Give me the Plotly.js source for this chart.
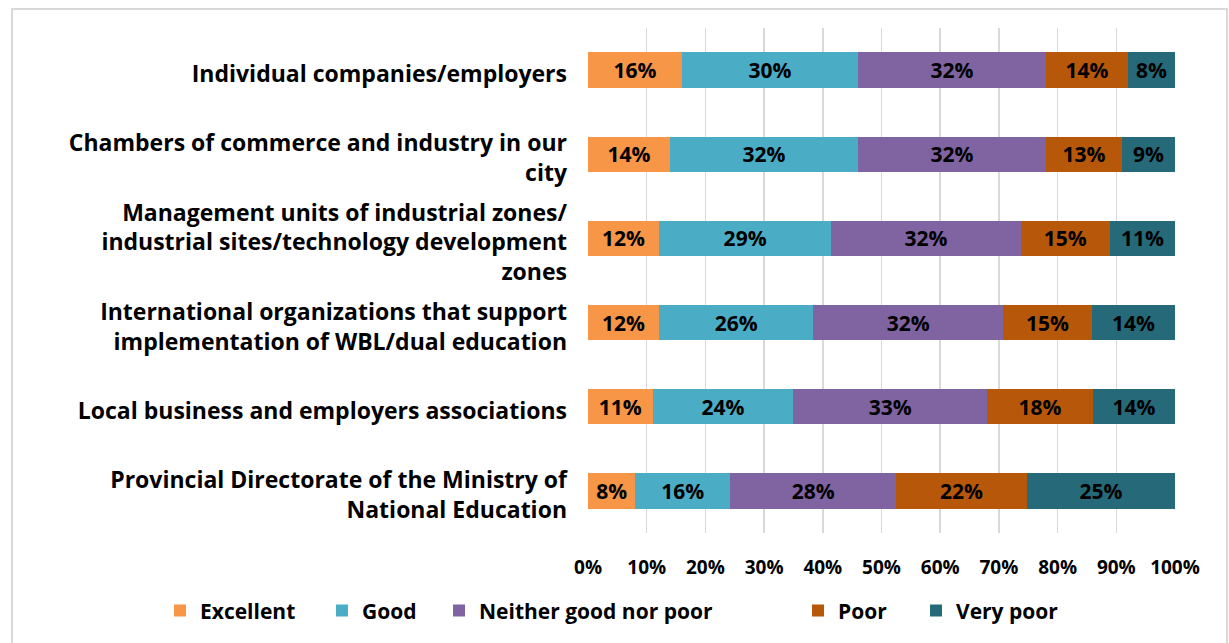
<!DOCTYPE html>
<html>
<head>
<meta charset="utf-8">
<script src="https://cdn.plot.ly/plotly-3.0.1.min.js"></script>
<style>
html,body{margin:0;padding:0;background:#fff;}
#chart{width:1229px;height:643px;position:absolute;left:0;top:0;}
#frame{position:absolute;left:11px;top:8px;width:1213px;height:640px;border:2px solid #d9d9d9;pointer-events:none;}
</style>
</head>
<body>
<div id="chart"></div>
<div id="frame"></div>
<script>
const categories = [
  "Individual companies/employers",
  "Chambers of commerce and industry in our<br>city",
  "Management units of industrial zones/<br>industrial sites/technology development<br>zones",
  "International organizations that support<br>implementation of WBL/dual education",
  "Local business and employers associations",
  "Provincial Directorate of the Ministry of<br>National Education"
];
const seriesNames = ["Excellent", "Good", "Neither good nor poor", "Poor", "Very poor"];
const excellent = [16, 14, 12, 12, 11, 8];
const good      = [30, 32, 29, 26, 24, 16];
const neither   = [32, 32, 32, 32, 33, 28];
const poor      = [14, 13, 15, 15, 18, 22];
const veryPoor  = [8, 9, 11, 14, 14, 25];
const colors = ["#F79646", "#4BACC6", "#8064A2", "#B7570A", "#266A7A"];
const xTicks = [0,10,20,30,40,50,60,70,80,90,100];

const allSeries = [excellent, good, neither, poor, veryPoor];
const FONT = "'Open Sans', Lato, sans-serif";
const legendIds = ["legend", "legend2", "legend3", "legend4", "legend5"];
const legendX = [-0.7291, -0.4532, -0.2538, 0.3578, 0.5588];

const traces = allSeries.map((vals, i) => ({
  type: "bar",
  orientation: "h",
  name: seriesNames[i],
  legend: legendIds[i],
  y: categories,
  x: vals,
  text: vals.map(v => v + "%"),
  textposition: "inside",
  insidetextanchor: "middle",
  textangle: 0,
  constraintext: "none",
  textfont: {family: FONT, size: 21, color: "#000", weight: "bold"},
  marker: {color: colors[i], line: {width: 0}},
  hoverinfo: "skip"
}));

const layout = {
  width: 1229,
  height: 643,
  margin: {l: 588, r: 54, t: 28, b: 106},
  paper_bgcolor: "#fff",
  plot_bgcolor: "#fff",
  barmode: "stack",
  barnorm: "percent",
  bargap: 0.58,
  showlegend: true,
  xaxis: {
    range: [0, 100],
    tickvals: xTicks,
    ticktext: xTicks.map(v => v + "%"),
    tickangle: 0,
    showgrid: true,
    gridcolor: "#d9d9d9",
    gridwidth: 1.5,
    zeroline: false,
    showline: false,
    ticks: "",
    ticklabelstandoff: 21,
    tickfont: {family: FONT, size: 19, color: "#000", weight: "bold"},
    fixedrange: true
  },
  yaxis: {
    type: "category",
    categoryorder: "array",
    categoryarray: categories,
    autorange: "reversed",
    showgrid: false,
    zeroline: false,
    showline: false,
    ticks: "",
    ticklabelstandoff: 20,
    ticklabelshift: -4,
    tickfont: {family: FONT, size: 23, color: "#000", weight: "bold"},
    fixedrange: true
  }
};
legendIds.forEach((id, i) => {
  layout[id] = {
    orientation: "h",
    x: legendX[i], xanchor: "left",
    y: -0.154, yanchor: "middle",
    font: {family: FONT, size: 21, color: "#000", weight: "bold"},
    itemwidth: 30,
    bgcolor: "rgba(0,0,0,0)"
  };
});

Plotly.newPlot("chart", traces, layout, {displayModeBar: false, staticPlot: true});
</script>
</body>
</html>
